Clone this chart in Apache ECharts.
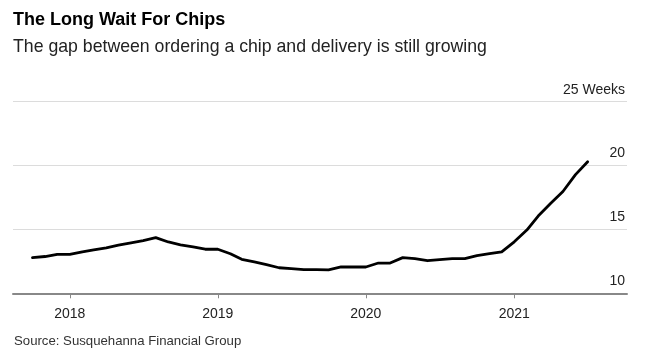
<!DOCTYPE html>
<html>
<head>
<meta charset="utf-8">
<script src="https://cdn.jsdelivr.net/npm/echarts@6/dist/echarts.min.js"></script>
<style>
  html, body { margin: 0; padding: 0; background: #fff; }
  #chart { width: 650px; height: 361px; }
</style>
</head>
<body>
<div id="chart"></div>
<script>
const months = [
  '2017-10-01','2017-11-01','2017-12-01',
  '2018-01-01','2018-02-01','2018-03-01','2018-04-01','2018-05-01','2018-06-01',
  '2018-07-01','2018-08-01','2018-09-01','2018-10-01','2018-11-01','2018-12-01',
  '2019-01-01','2019-02-01','2019-03-01','2019-04-01','2019-05-01','2019-06-01',
  '2019-07-01','2019-08-01','2019-09-01','2019-10-01','2019-11-01','2019-12-01',
  '2020-01-01','2020-02-01','2020-03-01','2020-04-01','2020-05-01','2020-06-01',
  '2020-07-01','2020-08-01','2020-09-01','2020-10-01','2020-11-01','2020-12-01',
  '2021-01-01','2021-02-01','2021-03-01','2021-04-01','2021-05-01','2021-06-01',
  '2021-07-01'
];
const leadTimeWeeks = [
  12.8, 12.88, 13.04,
  13.04, 13.25, 13.4, 13.56, 13.77, 13.95,
  14.12, 14.36, 14.02, 13.8, 13.64, 13.45,
  13.45, 13.1, 12.66, 12.46, 12.25, 12.0,
  11.93, 11.85, 11.85, 11.84, 12.07, 12.06,
  12.06, 12.37, 12.37, 12.79, 12.71, 12.55,
  12.63, 12.71, 12.71, 12.95, 13.1, 13.24,
  14.03, 14.95, 16.05, 17.05, 17.97, 19.29,
  20.3
];
const yearTicks = ['2018-01-01', '2019-01-01', '2020-01-01', '2021-01-01'];
const yTicks = [10, 15, 20, 25];
const yUnit = 'Weeks';

const FONT = '"Liberation Sans", Arial, sans-serif';
const ts = d => Date.parse(d + 'T00:00:00Z');
const yearTs = yearTicks.map(ts);
const chart = echarts.init(document.getElementById('chart'), null, { renderer: 'canvas' });

chart.setOption({
  animation: false,
  backgroundColor: '#fff',
  title: [
    { text: 'The Long Wait For Chips', left: 13, top: 9, padding: 0,
      textStyle: { fontFamily: FONT, fontSize: 18, fontWeight: 'bold', color: '#000', lineHeight: 22 } },
    { text: 'The gap between ordering a chip and delivery is still growing', left: 13, top: 37, padding: 0,
      textStyle: { fontFamily: FONT, fontSize: 17.7, fontWeight: 'normal', color: '#222', lineHeight: 21 } },
    { text: 'Source: Susquehanna Financial Group', left: 14, top: 334, padding: 0,
      textStyle: { fontFamily: FONT, fontSize: 13.2, fontWeight: 'normal', color: '#333', lineHeight: 15 } }
  ],
  grid: { left: 13, right: 23, top: 101.7, bottom: 67.7, containLabel: false },
  xAxis: {
    type: 'value',
    min: ts('2017-08-14'),
    max: ts('2021-10-06'),
    axisLine: { show: true, lineStyle: { color: '#888', width: 2 } },
    axisTick: { show: true, customValues: yearTs, length: 5, lineStyle: { color: '#888', width: 1 } },
    axisLabel: {
      customValues: yearTs,
      formatter: v => String(new Date(v).getUTCFullYear()),
      fontFamily: FONT, fontSize: 14, color: '#222', margin: 14
    },
    splitLine: { show: false }
  },
  yAxis: {
    type: 'value',
    position: 'right',
    min: yTicks[0], max: yTicks[yTicks.length - 1], interval: 5,
    axisLine: { show: false },
    axisTick: { show: false },
    axisLabel: {
      inside: true,
      margin: 2,
      verticalAlign: 'bottom',
      padding: [0, 0, 5, 0],
      formatter: v => (v === yTicks[yTicks.length - 1] ? v + ' ' + yUnit : String(v)),
      fontFamily: FONT, fontSize: 14, color: '#222'
    },
    splitLine: { show: true, lineStyle: { color: '#dcdcdc', width: 1 } }
  },
  series: [{
    type: 'line',
    data: months.map((m, i) => [ts(m), leadTimeWeeks[i]]),
    showSymbol: false,
    lineStyle: { color: '#000', width: 2.8, join: 'round', cap: 'round' },
    itemStyle: { color: '#000' },
    z: 3
  }]
});
</script>
</body>
</html>
